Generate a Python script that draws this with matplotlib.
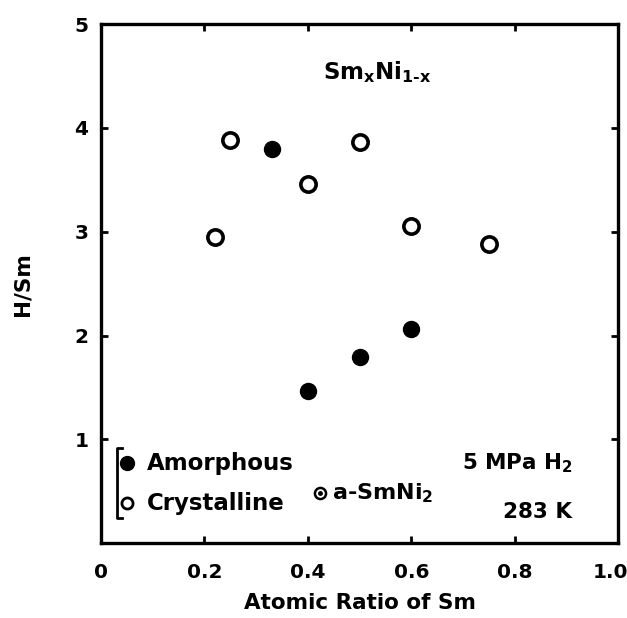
import numpy as np
import matplotlib
matplotlib.use('Agg')
import matplotlib.pyplot as plt
import matplotlib.transforms as mtrans

# data
amor_x = [0.33, 0.40, 0.50, 0.60]
amor_y = [3.80, 1.47, 1.79, 2.06]
cryst_x = [0.22, 0.25, 0.40, 0.50, 0.60, 0.75]
cryst_y = [2.95, 3.88, 3.46, 3.86, 3.06, 2.88]

xticks = [0, 0.2, 0.4, 0.6, 0.8, 1.0]
xlabels = ['0', '0.2', '0.4', '0.6', '0.8', '1.0']
yticks = [1, 2, 3, 4, 5]

plt.rcParams['font.family'] = 'DejaVu Sans'
plt.rcParams['font.weight'] = 'bold'
plt.rcParams['mathtext.default'] = 'regular'

fig = plt.figure(figsize=(6.27, 6.18), dpi=100)
ax = fig.add_axes([0.161, 0.121, 0.825, 0.840])

ax.plot(cryst_x, cryst_y, 'o', ms=11, mfc='white', mec='black', mew=2.6)
ax.plot(amor_x, amor_y, 'o', ms=11.5, mfc='black', mec='black')

ax.set_xlim(0, 1.0)
ax.set_ylim(0, 5)
ax.set_xticks(xticks)
ax.set_xticklabels(xlabels)
ax.set_yticks(yticks)
ax.tick_params(direction='in', length=5, width=2, top=True, right=True,
               labelsize=14.5)
ax.tick_params(axis='x', pad=14)
ax.tick_params(axis='y', pad=9)
for s in ax.spines.values():
    s.set_linewidth(2.4)

# last x label sits a bit inside the figure edge
last = ax.get_xticklabels()[-1]
last.set_transform(last.get_transform() +
                   mtrans.ScaledTranslation(-8 / 100, 0, fig.dpi_scale_trans))

ax.set_xlabel('Atomic Ratio of Sm', fontsize=15.5, fontweight='bold', labelpad=8)
ax.set_ylabel('H/Sm', fontsize=15.5, fontweight='bold', labelpad=30)

# annotations
tr = ax.transAxes
ax.text(0.534, 0.907, 'Sm$_x$Ni$_{1\u2010x}$', transform=tr, fontsize=16.5,
        ha='center', va='center')

# legend block with bracket
ax.plot([0.041, 0.031, 0.031, 0.041], [0.183, 0.183, 0.048, 0.048], '-',
        color='black', lw=2, transform=tr, clip_on=False)
ax.plot([0.050], [0.154], 'o', ms=10, mfc='black', mec='black', transform=tr)
ax.plot([0.050], [0.077], 'o', ms=8, mfc='white', mec='black', mew=2,
        transform=tr)
ax.text(0.089, 0.154, 'Amorphous', transform=tr, fontsize=16.5, va='center')
ax.text(0.089, 0.077, 'Crystalline', transform=tr, fontsize=16.5, va='center')

ax.plot([0.424], [0.096], 'o', ms=8, mfc='white', mec='black', mew=1.8,
        transform=tr)
ax.plot([0.424], [0.096], 'o', ms=2.5, mfc='black', mec='black', transform=tr)
ax.text(0.447, 0.096, 'a-SmNi$_2$', transform=tr, fontsize=16, va='center')

ax.text(0.698, 0.154, '5 MPa H$_2$', transform=tr, fontsize=15.5, va='center')
ax.text(0.778, 0.060, '283 K', transform=tr, fontsize=15.5, va='center')

fig.savefig('out.png', dpi=100)
